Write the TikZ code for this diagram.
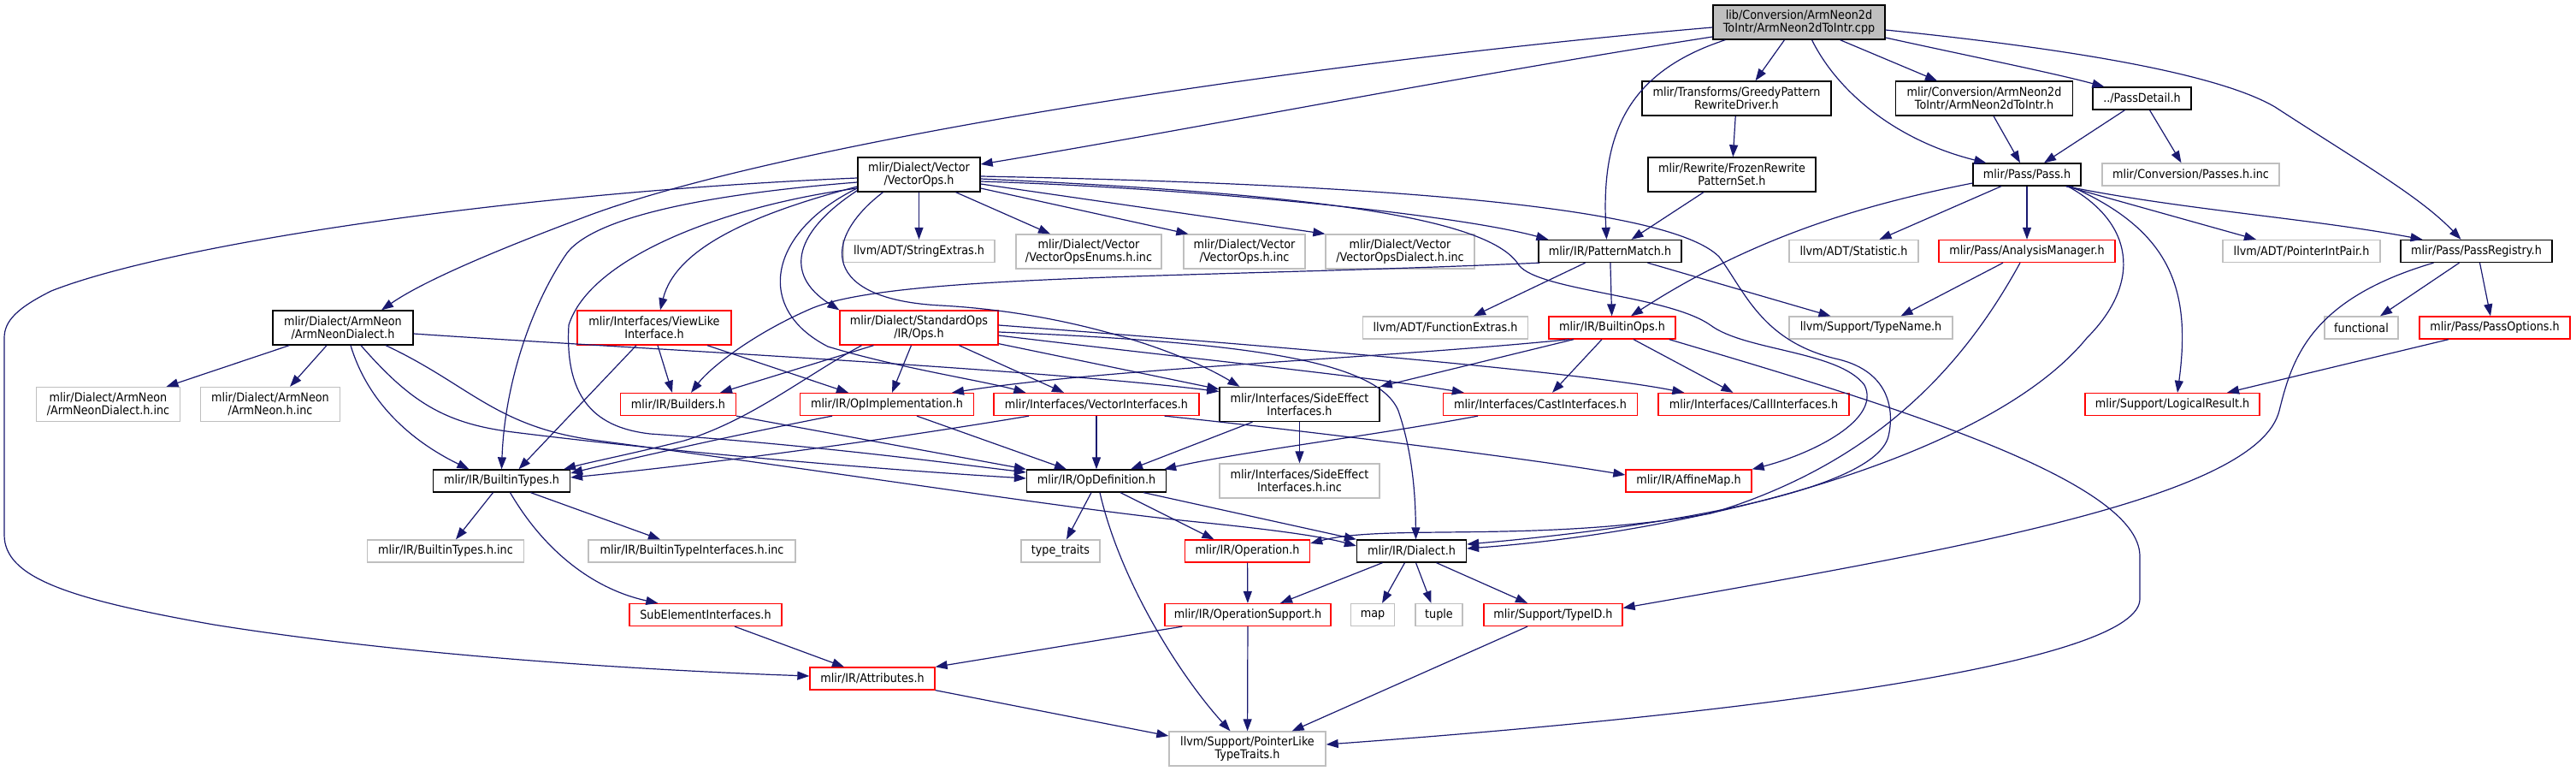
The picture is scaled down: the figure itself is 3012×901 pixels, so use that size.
\documentclass[tikz,border=0pt]{standalone}
\usepackage{fontspec}
\setmainfont{DejaVu Sans}[FakeStretch=0.9]
\usetikzlibrary{arrows.meta,calc}
\definecolor{edgeblue}{HTML}{191970}
\definecolor{greyc}{HTML}{BFBFBF}
\newcommand{\nodefont}{\fontsize{14.2}{15}\selectfont}
\tikzset{
 nd/.style={draw, rectangle, inner sep=0pt, align=center, font=\nodefont, line width=1.3pt},
 bk/.style={nd, draw=black},
 rd/.style={nd, draw=red},
 gy/.style={nd, draw=greyc},
 rt/.style={nd, draw=black, fill=greyc},
 e/.style={draw=edgeblue, line width=1.2pt, -{Triangle[length=14pt,width=10pt]}}
}
\begin{document}
\begin{tikzpicture}[x=1pt,y=-1pt]
\useasboundingbox (0,0) rectangle (3012,901);
% nodes
\node[rt, minimum width=201pt, minimum height=40pt] (root) at (2103.5,26) {lib/Conversion/ArmNeon2d\\ToIntr/ArmNeon2dToIntr.cpp};
\node[bk, minimum width=143pt, minimum height=40pt] (vops) at (1074.5,204) {mlir/Dialect/Vector\\/VectorOps.h};
\node[bk, minimum width=221pt, minimum height=40pt] (greedy) at (2030.5,115) {mlir/Transforms/GreedyPattern\\RewriteDriver.h};
\node[bk, minimum width=207pt, minimum height=40pt] (a2i) at (2320,115) {mlir/Conversion/ArmNeon2d\\ToIntr/ArmNeon2dToIntr.h};
\node[bk, minimum width=115pt, minimum height=26pt] (pdetail) at (2504.5,115) {../PassDetail.h};
\node[bk, minimum width=196pt, minimum height=40pt] (frozen) at (2025,204) {mlir/Rewrite/FrozenRewrite\\PatternSet.h};
\node[bk, minimum width=126pt, minimum height=26pt] (pass) at (2370,204) {mlir/Pass/Pass.h};
\node[gy, minimum width=207pt, minimum height=26pt] (passesinc) at (2561.5,204) {mlir/Conversion/Passes.h.inc};
\node[gy, minimum width=177pt, minimum height=26pt] (strext) at (1074.5,293.5) {llvm/ADT/StringExtras.h};
\node[gy, minimum width=170pt, minimum height=40pt] (enums) at (1273,294) {mlir/Dialect/Vector\\/VectorOpsEnums.h.inc};
\node[gy, minimum width=142pt, minimum height=40pt] (vopsinc) at (1455,294) {mlir/Dialect/Vector\\/VectorOps.h.inc};
\node[gy, minimum width=174pt, minimum height=40pt] (vdialinc) at (1637,294) {mlir/Dialect/Vector\\/VectorOpsDialect.h.inc};
\node[bk, minimum width=167pt, minimum height=26pt] (pmatch) at (1882.5,293.5) {mlir/IR/PatternMatch.h};
\node[gy, minimum width=151pt, minimum height=26pt] (stat) at (2167.5,293.5) {llvm/ADT/Statistic.h};
\node[rd, minimum width=206pt, minimum height=26pt] (anam) at (2370,293.5) {mlir/Pass/AnalysisManager.h};
\node[gy, minimum width=184pt, minimum height=26pt] (pip) at (2691,293.5) {llvm/ADT/PointerIntPair.h};
\node[bk, minimum width=177pt, minimum height=26pt] (preg) at (2895.5,293.5) {mlir/Pass/PassRegistry.h};
\node[bk, minimum width=164pt, minimum height=40pt] (armd) at (401,383) {mlir/Dialect/ArmNeon\\/ArmNeonDialect.h};
\node[rd, minimum width=180pt, minimum height=40pt] (viewlike) at (765,383) {mlir/Interfaces/ViewLike\\Interface.h};
\node[rd, minimum width=185pt, minimum height=40pt] (stdops) at (1074.5,383) {mlir/Dialect/StandardOps\\/IR/Ops.h};
\node[gy, minimum width=193pt, minimum height=26pt] (funcext) at (1690,383) {llvm/ADT/FunctionExtras.h};
\node[rd, minimum width=148pt, minimum height=26pt] (bops) at (1885,383) {mlir/IR/BuiltinOps.h};
\node[gy, minimum width=191pt, minimum height=26pt] (typename) at (2187.5,383) {llvm/Support/TypeName.h};
\node[gy, minimum width=86pt, minimum height=26pt] (functional) at (2761,383) {functional};
\node[rd, minimum width=176pt, minimum height=26pt] (popts) at (2917,383) {mlir/Pass/PassOptions.h};
\node[gy, minimum width=168pt, minimum height=40pt] (armdinc) at (126.5,472.5) {mlir/Dialect/ArmNeon\\/ArmNeonDialect.h.inc};
\node[gy, minimum width=163pt, minimum height=40pt] (armneoninc) at (316,472.5) {mlir/Dialect/ArmNeon\\/ArmNeon.h.inc};
\node[rd, minimum width=135pt, minimum height=26pt] (builders) at (793,472.5) {mlir/IR/Builders.h};
\node[rd, minimum width=203pt, minimum height=26pt] (opimpl) at (1037,472.5) {mlir/IR/OpImplementation.h};
\node[rd, minimum width=240pt, minimum height=26pt] (vecif) at (1282,472.5) {mlir/Interfaces/VectorInterfaces.h};
\node[bk, minimum width=187pt, minimum height=40pt] (sideeff) at (1519.5,472.5) {mlir/Interfaces/SideEffect\\Interfaces.h};
\node[rd, minimum width=227pt, minimum height=26pt] (castif) at (1801,472.5) {mlir/Interfaces/CastInterfaces.h};
\node[rd, minimum width=223pt, minimum height=26pt] (callif) at (2050.5,472.5) {mlir/Interfaces/CallInterfaces.h};
\node[rd, minimum width=204pt, minimum height=26pt] (logres) at (2540,472.5) {mlir/Support/LogicalResult.h};
\node[bk, minimum width=160pt, minimum height=26pt] (btypes) at (586.5,562) {mlir/IR/BuiltinTypes.h};
\node[bk, minimum width=163pt, minimum height=26pt] (opdef) at (1282,562) {mlir/IR/OpDefinition.h};
\node[gy, minimum width=187pt, minimum height=40pt] (sideinc) at (1519.5,562) {mlir/Interfaces/SideEffect\\Interfaces.h.inc};
\node[rd, minimum width=147pt, minimum height=26pt] (affine) at (1974.5,562) {mlir/IR/AffineMap.h};
\node[gy, minimum width=183pt, minimum height=26pt] (btinc) at (521,644) {mlir/IR/BuiltinTypes.h.inc};
\node[gy, minimum width=242pt, minimum height=26pt] (btiinc) at (809,644) {mlir/IR/BuiltinTypeInterfaces.h.inc};
\node[gy, minimum width=92pt, minimum height=26pt] (ttraits) at (1240,644) {type\_traits};
\node[rd, minimum width=146pt, minimum height=26pt] (operation) at (1458.5,644) {mlir/IR/Operation.h};
\node[bk, minimum width=128pt, minimum height=26pt] (dialect) at (1650.5,644) {mlir/IR/Dialect.h};
\node[rd, minimum width=178pt, minimum height=26pt] (subel) at (825,718.5) {SubElementInterfaces.h};
\node[rd, minimum width=194pt, minimum height=26pt] (opsupp) at (1459,718.5) {mlir/IR/OperationSupport.h};
\node[gy, minimum width=51pt, minimum height=26pt] (map) at (1605,718.5) {map};
\node[gy, minimum width=55pt, minimum height=26pt] (tuple) at (1682.5,718.5) {tuple};
\node[rd, minimum width=162pt, minimum height=26pt] (typeid) at (1816,718.5) {mlir/Support/TypeID.h};
\node[rd, minimum width=146pt, minimum height=26pt] (attrs) at (1020,793) {mlir/IR/Attributes.h};
\node[gy, minimum width=183pt, minimum height=40pt] (plt) at (1458.5,875) {llvm/Support/PointerLike\\TypeTraits.h};
% edges from root
\draw[e] ($(root.west)+(0,6)$) .. controls (1500,75) and (900,170) .. (680,255) .. controls (600,285) and (500,325) .. ($(armd.north)+(45,0)$);
\draw[e] ($(root.west)+(0,17)$) .. controls (1700,90) and (1400,150) .. ($(vops.east)+(0,-12)$);
\draw[e] ($(root.south west)+(15,0)$) .. controls (1900,85) and (1872,160) .. ($(pmatch.north)+(-4,0)$);
\draw[e] ($(root.south)+(-17,0)$) -- ($(greedy.north)+(22,0)$);
\draw[e] ($(root.south)+(15,0)$) .. controls (2150,110) and (2220,165) .. ($(pass.north west)+(16,0)$);
\draw[e] ($(root.south)+(48,0)$) -- ($(a2i.north)+(-55,0)$);
\draw[e] ($(root.east)+(0,18)$) .. controls (2300,65) and (2400,85) .. ($(pdetail.north west)+(14,0)$);
\draw[e] ($(root.east)+(0,9)$) .. controls (2450,60) and (2600,90) .. (2660,125) .. controls (2760,190) and (2830,230) .. ($(preg.north)+(-18,0)$);
% upper chain
\draw[e] (greedy) -- (frozen);
\draw[e] ($(frozen.south)+(-33,0)$) -- ($(pmatch.north)+(25,0)$);
\draw[e] ($(a2i.south)+(11,0)$) -- ($(pass.north)+(-8,0)$);
\draw[e] ($(pdetail.south)+(-20,0)$) -- ($(pass.north)+(20,0)$);
\draw[e] ($(pdetail.south)+(9,0)$) -- ($(passesinc.north)+(-11,0)$);
% Pass.h
\draw[e] (pass) -- (anam);
\draw[e] ($(pass.south)+(-30,0)$) -- ($(stat.north)+(30,0)$);
\draw[e] ($(pass.west)+(0,10)$) .. controls (2200,235) and (2060,270) .. ($(bops.north)+(22,0)$);
\draw[e] ($(pass.south east)+(-18,0)$) -- ($(pip.north)+(-53,0)$);
\draw[e] ($(pass.south east)+(-18,0)$) .. controls (2550,245) and (2700,255) .. ($(preg.north)+(-63,0)$);
\draw[e] ($(pass.south east)+(-13,0)$) .. controls (2540,270) and (2562,340) .. ($(logres.north)+(6,0)$);
\draw[e] ($(pass.south east)+(-16,0)$) .. controls (2495,260) and (2505,330) .. (2440,395) .. controls (2330,530) and (2000,620) .. ($(dialect.east)+(0,-3)$);
% AnalysisManager
\draw[e] ($(anam.south)+(-28,0)$) -- ($(typename.north)+(35,0)$);
\draw[e] ($(anam.south)+(-8,0)$) .. controls (2300,420) and (2200,540) .. (2000,600) .. controls (1800,635) and (1620,612) .. ($(operation.east)+(0,-9)$);
% PassRegistry
\draw[e] ($(preg.south)+(-20,0)$) -- ($(functional.north)+(22,0)$);
\draw[e] ($(preg.south)+(4,0)$) -- ($(popts.north)+(-5,0)$);
\draw[e] ($(preg.south)+(-50,0)$) .. controls (2700,350) and (2680,420) .. (2665,480) .. controls (2640,580) and (2300,640) .. ($(typeid.east)+(0,-8)$);
\draw[e] ($(popts.south)+(-54,0)$) -- ($(logres.north)+(64,0)$);
% PatternMatch
\draw[e] ($(pmatch.south)+(-29,0)$) -- ($(funcext.north)+(33,0)$);
\draw[e] (pmatch) -- (bops);
\draw[e] ($(pmatch.south)+(44,0)$) -- ($(typename.north)+(-47,0)$);
\draw[e] ($(pmatch.south west)+(2,0)$) .. controls (1400,325) and (1050,320) .. (950,360) .. controls (880,390) and (830,430) .. ($(builders.north)+(15,0)$);
% BuiltinOps
\draw[e] ($(bops.south)+(-50,0)$) .. controls (1600,420) and (1300,430) .. ($(opimpl.north)+(76,0)$);
\draw[e] ($(bops.south)+(-45,0)$) -- (sideeff.north east);
\draw[e] ($(bops.south)+(-12,0)$) -- ($(castif.north)+(14,0)$);
\draw[e] ($(bops.south)+(25,0)$) -- ($(callif.north)+(-24,0)$);
\draw[e] ($(bops.south east)+(-8,0)$) .. controls (2200,470) and (2502,560) .. (2502,650) -- (2502,700) .. controls (2502,770) and (2100,830) .. ($(plt.east)+(0,-5)$);
% StandardOps
\draw[e] ($(stdops.south)+(-53,0)$) -- ($(builders.north)+(49,0)$);
\draw[e] ($(stdops.south)+(-67,0)$) .. controls (940,440) and (880,490) .. (800,515) .. controls (740,530) and (690,540) .. ($(btypes.north east)+(-8,0)$);
\draw[e] ($(stdops.south)+(-9,0)$) -- ($(opimpl.north)+(6,0)$);
\draw[e] ($(stdops.south)+(47,0)$) -- ($(vecif.north)+(-38,0)$);
\draw[e] ($(stdops.south east)+(0,-2)$) -- ($(sideeff.north west)+(0,3)$);
\draw[e] ($(stdops.east)+(0,9)$) .. controls (1400,420) and (1600,440) .. ($(castif.north west)+(25,0)$);
\draw[e] ($(stdops.east)+(0,-3)$) .. controls (1500,405) and (1850,435) .. ($(callif.north west)+(31,0)$);
\draw[e] ($(stdops.east)+(0,5)$) .. controls (1450,400) and (1610,420) .. (1635,480) .. controls (1652,530) and (1655,580) .. ($(dialect.north)+(5,0)$);
% VectorOps
\draw[e] (vops) -- (strext);
\draw[e] ($(vops.south)+(43,0)$) -- ($(enums.north)+(-45,0)$);
\draw[e] ($(vops.east)+(0,16)$) -- ($(vopsinc.north west)+(6,0)$);
\draw[e] ($(vops.east)+(0,11)$) -- (vdialinc.north west);
\draw[e] ($(vops.east)+(0,8)$) .. controls (1400,220) and (1700,250) .. ($(pmatch.north west)+(12,0)$);
\draw[e] ($(vops.east)+(0,5)$) .. controls (1500,225) and (1740,250) .. (1776,310) .. controls (1800,340) and (1950,345) .. (2000,380) .. controls (2040,410) and (2150,410) .. (2180,450) .. controls (2200,490) and (2120,530) .. (affine.north east);
\draw[e] ($(vops.east)+(0,2)$) .. controls (1600,215) and (1950,240) .. (2010,300) .. controls (2040,340) and (2060,400) .. (2150,420) .. controls (2210,435) and (2215,480) .. (2208,510) .. controls (2190,580) and (1900,620) .. ($(dialect.east)+(0,-8)$);
\draw[e] ($(vops.south)+(-42,0)$) .. controls (960,280) and (960,350) .. (1100,357) .. controls (1250,365) and (1380,410) .. ($(sideeff.north)+(-70,0)$);
\draw[e] ($(vops.south west)+(0,-2)$) .. controls (930,270) and (915,320) .. (stdops.north west);
\draw[e] ($(vops.west)+(0,16)$) .. controls (900,270) and (880,360) .. (968,405) .. controls (1050,430) and (1150,445) .. ($(vecif.north west)+(38,0)$);
\draw[e] ($(vops.west)+(0,14)$) .. controls (880,250) and (790,290) .. ($(viewlike.north)+(7,0)$);
\draw[e] ($(vops.west)+(0,9)$) .. controls (850,225) and (690,250) .. (660,300) .. controls (620,360) and (590,450) .. (btypes.north);
\draw[e] ($(vops.west)+(0,16)$) .. controls (850,240) and (690,300) .. (665,380) .. controls (660,470) and (700,500) .. (760,507) .. controls (950,520) and (1100,540) .. ($(opdef.west)+(0,-10)$);
\draw[e] ($(vops.west)+(0,4)$) .. controls (600,225) and (200,285) .. (60,340) .. controls (20,360) and (5,375) .. (5,395) -- (5,625) .. controls (5,675) and (80,700) .. (250,730) .. controls (500,770) and (800,785) .. ($(attrs.west)+(0,-3)$);
% ArmNeonDialect
\draw[e] ($(armd.south west)+(20,0)$) -- ($(armdinc.north)+(68,0)$);
\draw[e] ($(armd.south)+(-19,0)$) -- ($(armneoninc.north)+(23,0)$);
\draw[e] ($(armd.south)+(9,0)$) .. controls (430,470) and (480,515) .. ($(btypes.north)+(-38,0)$);
\draw[e] ($(armd.south)+(21,0)$) .. controls (480,470) and (520,495) .. (600,505) .. controls (800,530) and (1050,550) .. ($(opdef.west)+(0,-3)$);
\draw[e] ($(armd.south)+(50,0)$) .. controls (550,450) and (580,500) .. (700,515) .. controls (1000,555) and (1250,595) .. (1400,610) .. controls (1500,620) and (1550,628) .. ($(dialect.west)+(0,-6)$);
\draw[e] ($(armd.east)+(0,7)$) .. controls (700,405) and (1200,430) .. ($(sideeff.west)+(0,-15)$);
% ViewLike
\draw[e] ($(viewlike.south)+(4,0)$) -- ($(builders.north)+(-7,0)$);
\draw[e] ($(viewlike.south)+(62,0)$) -- ($(opimpl.north)+(-45,0)$);
\draw[e] ($(viewlike.south)+(-21,0)$) -- ($(btypes.north)+(20,0)$);
% middle row
\draw[e] (builders.south east) -- (opdef.north west);
\draw[e] ($(opimpl.south)+(35,0)$) -- ($(opdef.north)+(-35,0)$);
\draw[e] ($(opimpl.south)+(-64,0)$) .. controls (850,510) and (720,540) .. ($(btypes.east)+(0,-9)$);
\draw[e] (vecif) -- (opdef);
\draw[e] ($(vecif.south)+(-79,0)$) .. controls (1000,520) and (800,545) .. ($(btypes.east)+(0,-4)$);
\draw[e] ($(vecif.south east)+(-41,0)$) .. controls (1450,495) and (1750,530) .. ($(affine.west)+(0,-7)$);
\draw[e] ($(sideeff.south)+(-55,0)$) -- ($(opdef.north)+(40,0)$);
\draw[e] (sideeff) -- (sideinc);
\draw[e] ($(castif.south)+(-73,0)$) .. controls (1600,510) and (1450,528) .. ($(opdef.north east)+(-3,0)$);
% BuiltinTypes
\draw[e] ($(btypes.south)+(-10,0)$) -- ($(btinc.north)+(12,0)$);
\draw[e] ($(btypes.south)+(34,0)$) -- ($(btiinc.north)+(-37,0)$);
\draw[e] ($(btypes.south)+(10,0)$) .. controls (640,650) and (700,690) .. ($(subel.north west)+(34,0)$);
\draw[e] ($(subel.south)+(34,0)$) -- ($(attrs.north)+(-33,0)$);
\draw[e] (attrs.south east) -- ($(plt.west)+(0,-15)$);
% OpDefinition
\draw[e] ($(opdef.south)+(-6,0)$) -- ($(ttraits.north)+(7,0)$);
\draw[e] ($(opdef.south)+(4,0)$) .. controls (1310,680) and (1380,790) .. ($(plt.north)+(-20,0)$);
\draw[e] ($(opdef.south)+(28,0)$) -- ($(operation.north)+(-39,0)$);
\draw[e] ($(opdef.south east)+(-27,0)$) -- (dialect.north west);
% lower
\draw[e] (operation) -- (opsupp);
\draw[e] ($(opsupp.south west)+(21,0)$) -- (attrs.north east);
\draw[e] (opsupp) -- (plt);
\draw[e] ($(dialect.south)+(-34,0)$) -- ($(opsupp.north)+(38,0)$);
\draw[e] ($(dialect.south)+(-8,0)$) -- ($(map.north)+(11,0)$);
\draw[e] ($(dialect.south)+(5,0)$) -- ($(tuple.north)+(-9,0)$);
\draw[e] ($(dialect.south)+(29,0)$) -- ($(typeid.north)+(-30,0)$);
\draw[e] ($(typeid.south)+(-30,0)$) -- ($(plt.north east)+(-40,0)$);
\end{tikzpicture}
\end{document}
